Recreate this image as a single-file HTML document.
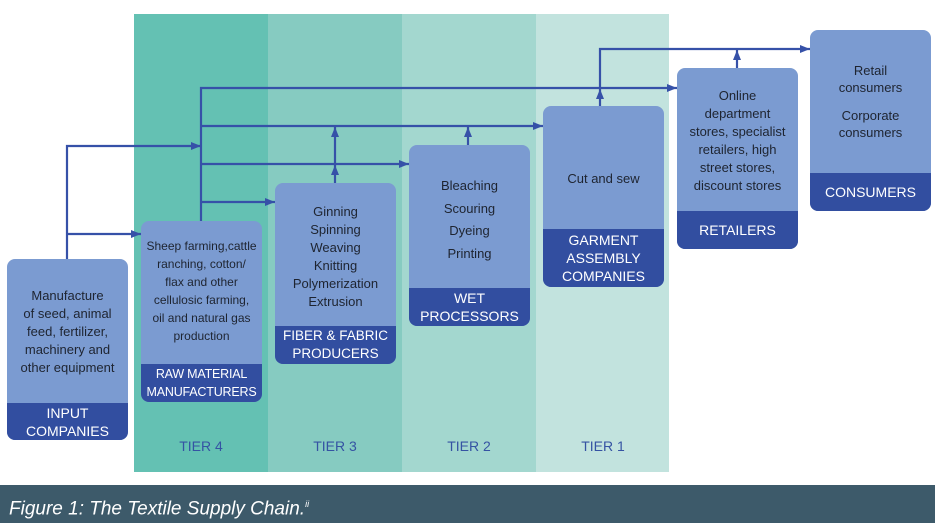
<!DOCTYPE html>
<html><head><meta charset="utf-8"><style>
body{margin:0;width:935px;height:523px;position:relative;background:#fff;font-family:"Liberation Sans",sans-serif;overflow:hidden}
.t{position:absolute;top:14px;height:458px;width:134px}
.tl{position:absolute;top:438px;width:134px;text-align:center;color:#3553a3;font-size:14px}
.b{position:absolute;width:121px;height:181px;background:#7b9bd1;border-radius:8px;overflow:hidden;color:#1e2430;font-size:12.5px;line-height:17px;text-align:center}
.b .c{position:absolute;left:0;right:0}
.b .h{position:absolute;left:0;right:0;bottom:0;background:#324ea0;color:#fff;font-size:14px;line-height:18px;display:flex;align-items:center;justify-content:center}
</style></head><body>
<div class="t" style="left:134px;background:#64c1b3"></div>
<div class="t" style="left:268px;background:#86cbc1"></div>
<div class="t" style="left:402px;background:#a3d7cf"></div>
<div class="t" style="left:536px;background:#c2e3de;width:133px"></div>
<div class="tl" style="left:134px">TIER 4</div>
<div class="tl" style="left:268px">TIER 3</div>
<div class="tl" style="left:402px">TIER 2</div>
<div class="tl" style="left:536px">TIER 1</div>
<svg style="position:absolute;left:0;top:0" width="935" height="523">
<defs><marker id="a" markerWidth="10" markerHeight="8" refX="10" refY="4" orient="auto" markerUnits="userSpaceOnUse"><path d="M0,0L10,4L0,8z" fill="#3651a8"/></marker></defs>
<g stroke="#3651a8" stroke-width="2.2" fill="none">
<path d="M67,260V146H201" marker-end="url(#a)"/>
<path d="M67,234H141" marker-end="url(#a)"/>
<path d="M201,221V88H600"/>
<path d="M600,88H677" marker-end="url(#a)"/>
<path d="M201,126H543" marker-end="url(#a)"/>
<path d="M201,164H409" marker-end="url(#a)"/>
<path d="M201,202H275" marker-end="url(#a)"/>
<path d="M335,183V165" marker-end="url(#a)"/>
<path d="M335,164V127" marker-end="url(#a)"/>
<path d="M468,145V127" marker-end="url(#a)"/>
<path d="M600,106V89" marker-end="url(#a)"/>
<path d="M600,88V49H810" marker-end="url(#a)"/>
<path d="M737,68V50" marker-end="url(#a)"/>
</g></svg>
<div class="b" style="left:7px;top:259px"><div class="c" style="top:28px;font-size:13px;line-height:18px">Manufacture<br>of seed, animal<br>feed, fertilizer,<br>machinery and<br>other equipment</div><div class="h" style="height:37px">INPUT<br>COMPANIES</div></div>
<div class="b" style="left:141px;top:221px"><div class="c" style="top:16px;font-size:12px;line-height:18px">Sheep farming,cattle<br>ranching, cotton/<br>flax and other<br>cellulosic farming,<br>oil and natural gas<br>production</div><div class="h" style="height:38px;font-size:12.5px;letter-spacing:-0.2px">RAW MATERIAL<br>MANUFACTURERS</div></div>
<div class="b" style="left:275px;top:183px"><div class="c" style="top:20px;font-size:13px;line-height:18px">Ginning<br>Spinning<br>Weaving<br>Knitting<br>Polymerization<br>Extrusion</div><div class="h" style="height:38px;font-size:13.5px">FIBER &amp; FABRIC<br>PRODUCERS</div></div>
<div class="b" style="left:409px;top:145px"><div class="c" style="top:30px;font-size:13px;line-height:22.5px">Bleaching<br>Scouring<br>Dyeing<br>Printing</div><div class="h" style="height:38px">WET<br>PROCESSORS</div></div>
<div class="b" style="left:543px;top:106px"><div class="c" style="top:64px;font-size:13px">Cut and sew</div><div class="h" style="height:58px">GARMENT<br>ASSEMBLY<br>COMPANIES</div></div>
<div class="b" style="left:677px;top:68px"><div class="c" style="top:19px;font-size:13px;line-height:18px">Online<br>department<br>stores, specialist<br>retailers, high<br>street stores,<br>discount stores</div><div class="h" style="height:38px">RETAILERS</div></div>
<div class="b" style="left:810px;top:30px"><div class="c" style="top:33px;font-size:13px;line-height:16.5px">Retail<br>consumers<div style="height:12px"></div>Corporate<br>consumers</div><div class="h" style="height:38px">CONSUMERS</div></div>
<div style="position:absolute;left:0;top:485px;width:935px;height:38px;background:#3d5a6a;color:#fff;font-style:italic;font-size:19px;line-height:38px;padding-left:9px;box-sizing:border-box">Figure 1: The Textile Supply Chain.<sup style="font-size:9px">ii</sup></div>
</body></html>
